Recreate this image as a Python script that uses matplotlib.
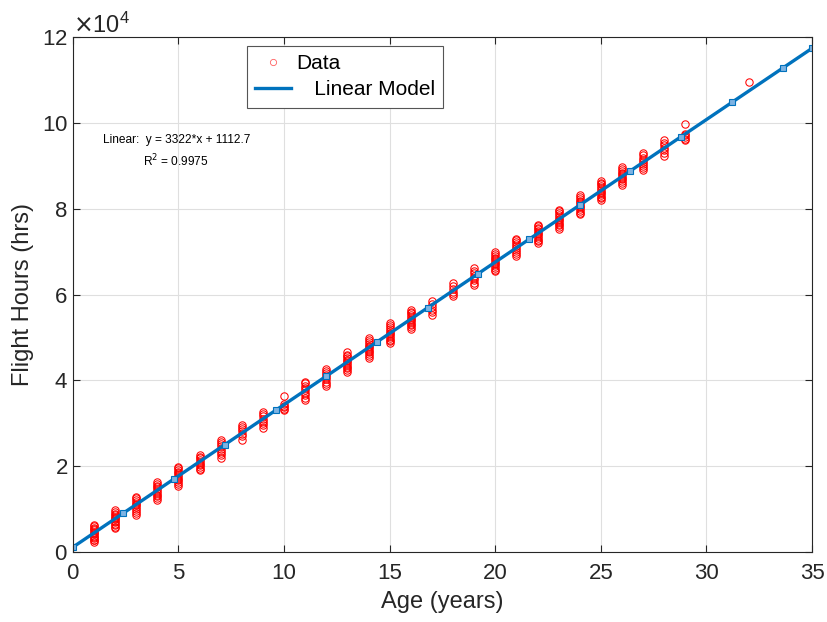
import matplotlib
matplotlib.use("Agg")
import matplotlib.pyplot as plt
from matplotlib.lines import Line2D
from matplotlib.ticker import ScalarFormatter

plt.rcParams["font.family"] = ["Liberation Sans", "DejaVu Sans"]

# edades y horas de vuelo
ages = [1, 2, 3, 4, 5, 6, 7, 8, 9, 10, 11, 12, 13, 14, 15,
        16, 17, 18, 19, 20, 21, 22, 23, 24, 25, 26, 27, 28, 29, 32]
hours = [
    [2300, 2700, 2900, 3300, 3600, 3800, 4200, 4500, 4700, 5100, 5400, 5700, 6000, 6300],
    [5500, 5900, 6200, 6600, 6900, 7300, 7600, 7900, 8200, 8600, 8900, 9300, 9700],
    [8700, 9100, 9600, 10000, 10400, 10900, 11300, 11700, 12100, 12500, 12900],
    [12200, 12600, 13000, 13400, 13800, 14200, 14700, 15100, 15500, 15900, 16400],
    [15500, 15900, 16300, 16700, 17100, 17500, 17900, 18300, 18700, 19100, 19500, 19900],
    [19000, 19400, 19800, 20200, 20600, 21000, 21400, 21800, 22200, 22600],
    [22000, 22500, 23000, 23600, 24100, 24700, 25200, 25700, 26200],
    [26200, 27000, 27600, 28200, 28700, 29200, 29700],
    [28900, 29500, 30000, 30600, 31100, 31600, 32200, 32700],
    [33000, 33300, 33700, 34100, 34500, 36400],
    [35500, 36000, 36600, 37100, 37700, 38200, 38800, 39300, 39700],
    [38700, 39200, 39700, 40200, 40700, 41200, 41700, 42200, 42600],
    [42000, 42400, 42800, 43200, 43600, 44000, 44400, 44800, 45200, 45600, 46000, 46500],
    [45300, 45700, 46100, 46500, 46900, 47300, 47700, 48100, 48500, 48900, 49400, 49900],
    [48700, 49100, 49500, 49900, 50300, 50700, 51100, 51500, 51900, 52400, 52800, 53300],
    [52000, 52400, 52800, 53200, 53600, 54000, 54400, 54800, 55200, 55600, 56000, 56300],
    [55300, 55900, 56500, 57100, 57800, 58400],
    [59600, 60100, 60700, 61300, 61900, 62600],
    [62200, 62700, 63300, 63800, 64400, 64900, 65500, 66100],
    [65400, 65800, 66200, 66600, 67000, 67400, 67800, 68200, 68600, 69000, 69400, 69800],
    [69000, 69400, 69800, 70300, 70800, 71300, 71800, 72300, 72700, 73000],
    [72000, 72400, 72800, 73200, 73600, 74000, 74400, 74800, 75200, 75600, 76000, 76300],
    [75300, 75700, 76100, 76500, 76900, 77300, 77700, 78100, 78500, 78900, 79400, 79800],
    [78700, 79100, 79500, 79900, 80300, 80700, 81100, 81500, 81900, 82300, 82700, 83200],
    [82000, 82400, 82800, 83200, 83600, 84000, 84400, 84800, 85200, 85700, 86100, 86500],
    [85600, 86000, 86400, 86800, 87200, 87600, 88000, 88400, 88800, 89200, 89600],
    [88900, 89400, 89900, 90400, 90900, 91400, 91900, 92500, 93000],
    [92300, 93000, 93600, 94200, 94800, 95400, 96100],
    [95900, 96300, 96700, 97100, 97500, 99700],
    [109500],
]

# modelo lineal
slope = 3322
intercept = 1112.7
r2 = 0.9975
model_x = [0, 2.4, 4.8, 7.2, 9.6, 12.0, 14.4, 16.8, 19.2, 21.6, 24.0, 26.4, 28.8, 31.2, 33.6, 35]
model_y = [slope * x + intercept for x in model_x]

xs, ys = [], []
for a, hs in zip(ages, hours):
    xs += [a] * len(hs)
    ys += hs

fig = plt.figure(figsize=(8.27, 6.22), dpi=100)
ax = fig.add_axes([0.088, 0.1125, 0.894, 0.828])

ax.plot(xs, ys, "o", ls="none", mfc="none", mec="red", ms=5.3, mew=0.75)
ax.plot(model_x, model_y, "-", color="#0072BD", lw=2.4,
        marker="s", ms=4.2, mfc="#7DB3E3", mec="#0072BD", mew=0.8)

ax.set_xlim(0, 35)
ax.set_ylim(0, 120000)
ax.set_xticks(range(0, 36, 5))
ax.set_yticks(range(0, 120001, 20000))

fmt = ScalarFormatter(useMathText=True)
fmt.set_powerlimits((4, 4))
ax.yaxis.set_major_formatter(fmt)
ax.yaxis.get_offset_text().set_fontsize(17)
ax.yaxis.get_offset_text().set_color("#262626")

ax.grid(True, color="#dfdfdf", lw=0.8)
ax.set_axisbelow(True)
ax.tick_params(direction="in", top=True, right=True, labelsize=16,
               colors="#262626", length=5, width=0.8)
ax.tick_params(axis="x", pad=8)
for s in ax.spines.values():
    s.set_color("#262626")
    s.set_linewidth(0.8)

ax.set_xlabel("Age (years)", fontsize=17, color="#262626", labelpad=5)
ax.set_ylabel("Flight Hours (hrs)", fontsize=17, color="#262626", labelpad=6)

ax.text(4.9, 93300, f"Linear:  y = {slope}*x + {intercept}\nR$^2$ = {r2}",
        fontsize=8.6, ha="center", va="center", multialignment="center",
        linespacing=1.5)

handles = [
    Line2D([], [], ls="none", marker="o", mfc="none", mec="#ff6060", ms=4.5, mew=0.6),
    Line2D([], [], color="#0072BD", lw=2.4),
]
leg = ax.legend(handles, ["Data", "   Linear Model"], loc="upper left",
                bbox_to_anchor=(0.235, 0.983), fontsize=15, fancybox=False,
                framealpha=1, edgecolor="#555555", handlelength=1.75,
                borderpad=0.4, borderaxespad=0, labelspacing=0.35,
                handletextpad=0.25)
leg.get_frame().set_linewidth(0.8)

fig.savefig("out.png", dpi=100)
